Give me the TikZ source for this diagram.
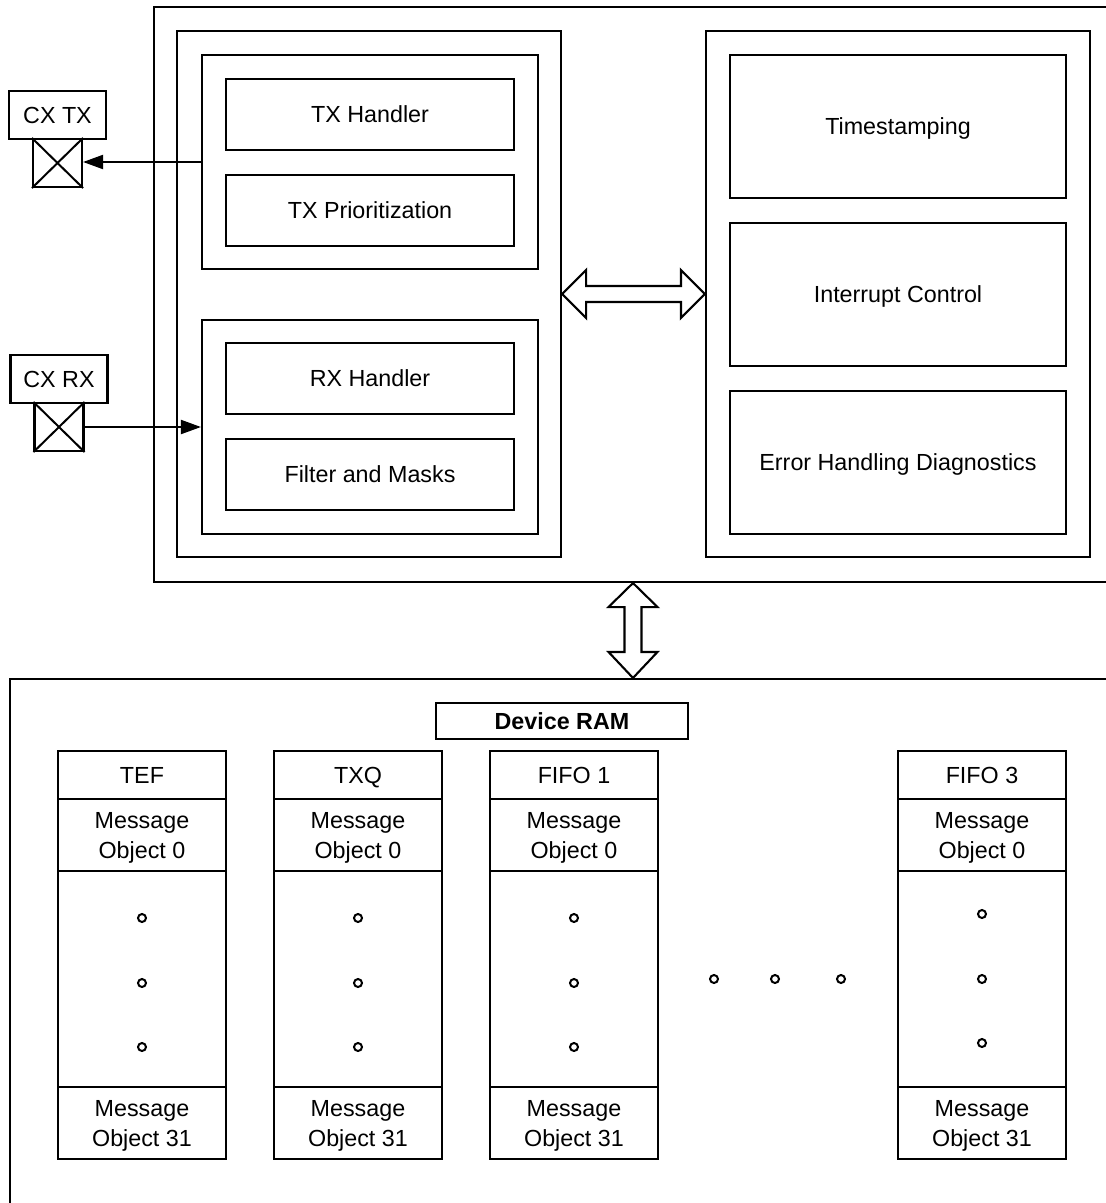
\documentclass[tikz,border=0pt]{standalone}
\usepackage{fontspec}
\setmainfont{Liberation Sans}
\usetikzlibrary{arrows.meta,calc}
\begin{document}
\begin{tikzpicture}[x=1pt,y=-1pt,
  box/.style={draw, line width=2.1pt, inner sep=0pt, align=center, text depth=0pt,
    font=\fontsize{23.3}{30}\selectfont},
  wire/.style={line width=2pt},
  tip/.style={-{Triangle[length=20pt,width=14pt]}},
  dot/.style={circle, draw, line width=2pt, minimum size=8pt, inner sep=0pt},
  fat/.style={line width=2.1pt, line join=miter}
]
\clip (0,0) rectangle (1106,1203);
\fill[white] (0,0) rectangle (1106,1203);

% outer blocks
\node[box, minimum width=976, minimum height=575] (topouter) at (642,294.5) {};
\node[box, minimum width=1120, minimum height=541] (botouter) at (570,949.5) {};

% left group
\node[box, minimum width=384, minimum height=526] (leftgrp) at (369,294) {};
\node[box, minimum width=336, minimum height=214] (txgrp) at (370,162) {};
\node[box, minimum width=288, minimum height=71] (txh) at (370,114.5) {TX Handler};
\node[box, minimum width=288, minimum height=71] (txp) at (370,210.5) {TX Prioritization};
\node[box, minimum width=336, minimum height=214] (rxgrp) at (370,427) {};
\node[box, minimum width=288, minimum height=71] (rxh) at (370,378.5) {RX Handler};
\node[box, minimum width=288, minimum height=71] (fm) at (370,474.5) {Filter and Masks};

% right group
\node[box, minimum width=384, minimum height=526] (rightgrp) at (898,294) {};
\node[box, minimum width=336, minimum height=143] (ts) at (898,126.5) {Timestamping};
\node[box, minimum width=336, minimum height=143] (ic) at (898,294.5) {Interrupt Control};
\node[box, minimum width=336, minimum height=143] (eh) at (898,462.5) {Error Handling Diagnostics};

% pins
\node[box, minimum width=97, minimum height=48] (cxtx) at (57.5,115) {CX TX};
\node[box, minimum width=49, minimum height=48] (txpin) at (57.5,163) {};
\draw[wire] (txpin.north west) -- (txpin.south east) (txpin.north east) -- (txpin.south west);
\node[box, minimum width=97, minimum height=48] (cxrx) at (59,379) {CX RX};
\node[box, minimum width=49, minimum height=48] (rxpin) at (59,427) {};
\draw[wire] (rxpin.north west) -- (rxpin.south east) (rxpin.north east) -- (rxpin.south west);

\draw[wire, tip] (txgrp.west) -- (txpin.east |- txgrp.west);
\draw[wire, tip] (rxpin.east) -- (rxgrp.west |- rxpin.east);

% horizontal double arrow
\coordinate (hl) at (leftgrp.east);
\coordinate (hr) at (rightgrp.west);
\draw[fat] (hl) -- ($(hl)+(24,-24)$) -- ($(hl)+(24,-8)$) -- ($(hr)+(-24,-8)$)
  -- ($(hr)+(-24,-24)$) -- (hr) -- ($(hr)+(-24,24)$) -- ($(hr)+(-24,8)$)
  -- ($(hl)+(24,8)$) -- ($(hl)+(24,24)$) -- cycle;

% vertical double arrow
\coordinate (vt) at ($(topouter.south)+(-9,0)$);
\coordinate (vb) at ($(botouter.north)+(63,0)$);
\draw[fat] (vt) -- ($(vt)+(24.5,24)$) -- ($(vt)+(8.5,24)$) -- ($(vb)+(8.5,-26)$)
  -- ($(vb)+(24.5,-26)$) -- (vb) -- ($(vb)+(-24.5,-26)$) -- ($(vb)+(-8.5,-26)$)
  -- ($(vt)+(-8.5,24)$) -- ($(vt)+(-24.5,24)$) -- cycle;

% device RAM
\node[box, minimum width=252, minimum height=36, font=\fontsize{23.3}{30}\selectfont\bfseries] (ram) at (562,721) {Device RAM};

% columns
\foreach \n/\x/\t/\o in {tef/142/TEF/0, txq/358/TXQ/0, fa/574/FIFO 1/0, fc/982/FIFO 3/-4} {
  \node[box, minimum width=168, minimum height=48] (\n h) at (\x,775) {\t};
  \node[box, minimum width=168, minimum height=72] (\n a) at (\x,835) {Message\\Object 0};
  \node[box, minimum width=168, minimum height=216] (\n m) at (\x,979) {};
  \node[box, minimum width=168, minimum height=72] (\n b) at (\x,1123) {Message\\Object 31};
  \node[dot] (\n d1) at (\x,918+\o) {};
  \node[dot] (\n d2) at (\x,983+\o) {};
  \node[dot] (\n d3) at (\x,1047+\o) {};
}
\node[dot] (hd1) at (714,979) {};
\node[dot] (hd2) at (775,979) {};
\node[dot] (hd3) at (841,979) {};
\end{tikzpicture}
\end{document}
